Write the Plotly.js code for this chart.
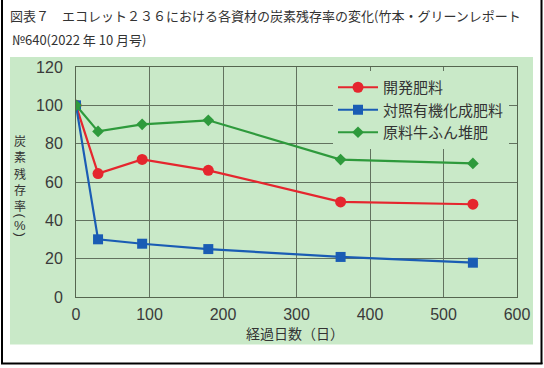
<!DOCTYPE html>
<html>
<head>
<meta charset="utf-8">
<script src="https://cdn.plot.ly/plotly-3.0.1.min.js"></script>
<style>html,body{margin:0;padding:0;background:#fff;}#chart{width:544px;height:368px;}</style>
</head>
<body>
<div id="chart"></div>
<script>
// Data
const days = [0, 30, 90, 180, 360, 540];
const seriesNames = ['開発肥料', '対照有機化成肥料', '原料牛ふん堆肥'];
const developed = [100, 64.4, 71.8, 66.1, 49.6, 48.4];
const control = [100, 30.1, 27.8, 25.0, 20.9, 17.9];
const manure = [100, 86.4, 90.1, 92.2, 71.7, 69.7];
const xTicks = [0, 100, 200, 300, 400, 500, 600];
const yTicks = [0, 20, 40, 60, 80, 100, 120];
const titleLine1 = '図表７　エコレット２３６における各資材の炭素残存率の変化(竹本・グリーンレポート';
const titleLine2 = '№640(2022 年 10 月号)';
const xTitle = '経過日数（日）';
const yTitleChars = ['炭', '素', '残', '存', '率', '(', '%', ')'];

const JP = '"Noto Sans CJK JP", sans-serif';
const NUM = '"Liberation Sans", Arial, sans-serif';

// pixel geometry helpers (plot area: x 76..517, y 67..297)
const W = 544, H = 368, L = 76, R = 27, T = 67, B = 71;
const pw = W - L - R, ph = H - T - B;
const px = x => (x - L) / pw;
const py = y => (H - B - y) / ph;

const traces = [
  {x: days, y: developed, name: seriesNames[0], mode: 'lines+markers',
   line: {color: '#e5262e', width: 2.2},
   marker: {symbol: 'circle', size: 11, color: '#e5262e'}},
  {x: days, y: control, name: seriesNames[1], mode: 'lines+markers',
   line: {color: '#1a5cb4', width: 2.2},
   marker: {symbol: 'square', size: 10, color: '#1a5cb4'}},
  {x: days, y: manure, name: seriesNames[2], mode: 'lines+markers',
   line: {color: '#2e9a3c', width: 2.2},
   marker: {symbol: 'diamond', size: 9, color: '#2e9a3c'}}
];

const annotations = [
  {text: titleLine2, xref: 'paper', yref: 'paper', x: px(10), y: py(39),
   xanchor: 'left', yanchor: 'middle', showarrow: false,
   font: {family: JP, size: 13, color: '#333'}},
  {text: xTitle, xref: 'paper', yref: 'paper', x: px(295), y: py(333),
   xanchor: 'center', yanchor: 'middle', showarrow: false,
   font: {family: JP, size: 14, color: '#333'}}
];
// vertical axis title, stacked one character per row
const yCharPos = [140, 156.5, 173, 189.5, 205.5, 215.5, 225, 234.5];
yTitleChars.forEach((c, i) => {
  const isParen = (c === '(' || c === ')');
  annotations.push({text: c, xref: 'paper', yref: 'paper', x: px(20), y: py(yCharPos[i]),
    xanchor: 'center', yanchor: 'middle', showarrow: false, borderpad: 0,
    textangle: isParen ? 90 : 0,
    font: {family: (isParen || c === '%') ? NUM : JP, size: (isParen || c === '%') ? 13 : 12, color: '#333'}});
});

const layout = {
  width: W, height: H,
  margin: {l: L, r: R, t: T, b: B, pad: 0},
  paper_bgcolor: '#ffffff',
  plot_bgcolor: 'rgba(0,0,0,0)',
  title: {text: titleLine1, xref: 'container', yref: 'container',
          x: 10 / W, xanchor: 'left', y: 1 - 16 / H, yanchor: 'middle',
          font: {family: JP, size: 13, color: '#333'}},
  showlegend: true,
  legend: {x: px(333), y: py(71), xanchor: 'left', yanchor: 'top',
           bgcolor: '#c9e9c8', borderwidth: 0, itemwidth: 40,
           font: {family: JP, size: 15, color: '#333'}},
  xaxis: {range: [0, 600], tickvals: xTicks, ticktext: xTicks.map(String),
          showgrid: true, gridcolor: '#62725f', gridwidth: 1,
          showline: true, linecolor: '#55654f', linewidth: 1, mirror: true,
          zeroline: false, ticks: '', ticklabelstandoff: 3,
          tickfont: {family: NUM, size: 16, color: '#3a3a3a'}, fixedrange: true},
  yaxis: {range: [0, 120], tickvals: yTicks, ticktext: yTicks.map(String),
          showgrid: true, gridcolor: '#62725f', gridwidth: 1,
          showline: true, linecolor: '#55654f', linewidth: 1, mirror: true,
          zeroline: false, ticks: '', ticklabelstandoff: 9,
          tickfont: {family: NUM, size: 16, color: '#3a3a3a'}, fixedrange: true},
  shapes: [
    {type: 'rect', xref: 'paper', yref: 'paper', x0: px(10), x1: px(533), y0: py(344.5), y1: py(57),
     fillcolor: '#c9e9c8', line: {width: 0}, layer: 'below'},
    {type: 'line', xref: 'paper', yref: 'paper', x0: px(2), x1: px(2), y0: py(364), y1: py(0),
     line: {color: '#000', width: 2}},
    {type: 'line', xref: 'paper', yref: 'paper', x0: px(541.5), x1: px(541.5), y0: py(364), y1: py(0),
     line: {color: '#000', width: 2}},
    {type: 'line', xref: 'paper', yref: 'paper', x0: px(1), x1: px(542.5), y0: py(363.5), y1: py(363.5),
     line: {color: '#000', width: 2}}
  ],
  annotations: annotations
};

Plotly.newPlot('chart', traces, layout, {displayModeBar: false, staticPlot: true});
</script>
</body>
</html>
